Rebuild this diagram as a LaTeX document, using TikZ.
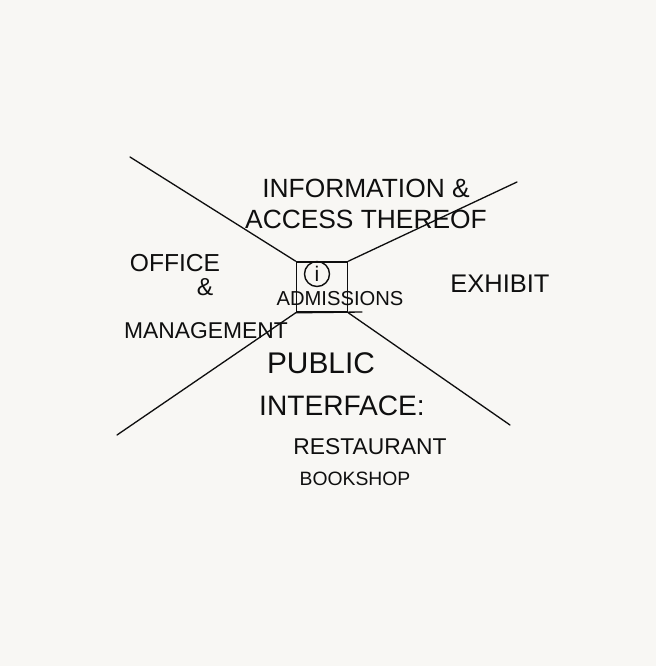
\documentclass[tikz,border=0pt]{standalone}
\usepackage{fontspec}
\setmainfont{Liberation Sans}
\usetikzlibrary{positioning, calc}
\definecolor{paper}{RGB}{248, 247, 244}
\definecolor{ink}{RGB}{15, 15, 15}

\begin{document}
\begin{tikzpicture}[
      x=0.02cm, y=-0.02cm,
      hand/.style={text=ink, inner sep=0pt, align=center},
      big/.style={hand, font=\fontsize{15}{20}\selectfont},
      small/.style={hand, font=\fontsize{12}{14}\selectfont},
      stroke/.style={ink, line width=0.75pt, line cap=round}
    ]
      \fill[paper] (0,0) rectangle (656,666);
      \useasboundingbox (0,0) rectangle (656,666);

      \node[draw=ink, line width=0.9pt, minimum width=1.02cm, minimum height=1cm, inner sep=0pt] (adm) at (322,287) {};
      \node[draw=ink, line width=0.8pt, circle, minimum size=0.5cm, inner sep=0pt, font=\fontsize{12}{13}\selectfont, text=ink] (info) at (317,274) {i};

      \coordinate (nwend) at (130,157);
      \coordinate (neend) at (517,182);
      \coordinate (swend) at (117,435);
      \coordinate (seend) at (510,425);
      \coordinate (uline) at (362,312);

      \draw[stroke] (nwend) -- (adm.north west);
      \draw[stroke] (neend) -- (adm.north east);
      \draw[stroke] (swend) -- (adm.south west);
      \draw[stroke] (seend) -- (adm.south east);
      \draw[stroke] (adm.south west) -- (uline);

      \node[big] (infolbl) at (366,188) {INFORMATION \&};
      \node[big] (access) at (366,219) {ACCESS THEREOF};
      \node[big, font=\fontsize{14}{16}\selectfont] (office) at (175,263) {OFFICE};
      \node[big, font=\fontsize{14}{16}\selectfont] (amp) at (205,287) {\&};
      \node[big, font=\fontsize{13}{16}\selectfont] (mgmt) at (206,331) {MANAGEMENT};
      \node[small, font=\fontsize{11.5}{14}\selectfont] (admlbl) at (340,299) {ADMISSIONS};
      \node[big, font=\fontsize{14.5}{16}\selectfont] (exhibit) at (500,284) {EXHIBIT};
      \node[big, font=\fontsize{17}{20}\selectfont] (public) at (321,363) {PUBLIC};
      \node[big, font=\fontsize{16}{20}\selectfont] (iface) at (342,406) {INTERFACE:};
      \node[small, font=\fontsize{13}{16}\selectfont] (rest) at (370,447) {RESTAURANT};
      \node[small, font=\fontsize{11}{14}\selectfont] (book) at (355,479) {BOOKSHOP};
    \end{tikzpicture}
\end{document}
